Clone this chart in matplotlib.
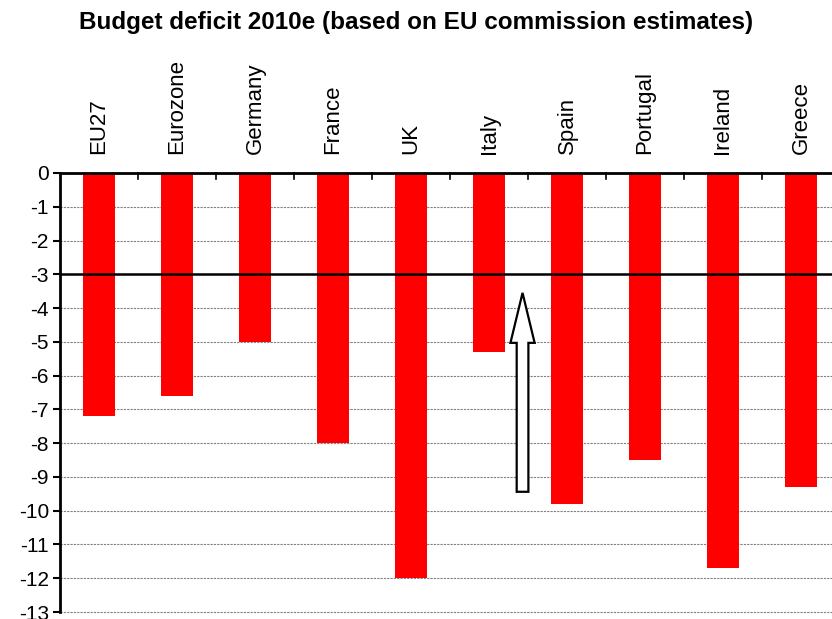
import matplotlib.pyplot as plt
import numpy as np
from matplotlib.patches import FancyArrow

# data
countries = ['EU27', 'Eurozone', 'Germany', 'France', 'UK', 'Italy', 'Spain', 'Portugal', 'Ireland', 'Greece']
deficit = [-7.2, -6.6, -5.0, -8.0, -12.0, -5.3, -9.8, -8.5, -11.7, -9.3]
yticks = list(range(0, -14, -1))

plt.rcParams['font.family'] = ['Liberation Sans', 'DejaVu Sans']

fig = plt.figure(figsize=(8.32, 6.19), dpi=100)
# axes runs slightly past the right edge of the figure
ax = fig.add_axes([60 / 832, 7 / 619, 780 / 832, 439 / 619])

x = np.arange(len(countries))
ax.bar(x, deficit, width=0.41, color='#ff0000', zorder=2)

ax.set_xlim(-0.5, len(countries) - 0.5)
ax.set_ylim(-13, 0)

# grid lines
for v in yticks[1:]:
    if v == -3:
        continue
    ax.axhline(v, color='#808080', lw=0.8, ls=(0, (2, 1)), zorder=1, clip_on=False)
ax.axhline(-3, color='black', lw=1.8, zorder=3)

ax.set_yticks(yticks)
ax.set_yticklabels([str(v) for v in yticks], fontsize=15)
ax.tick_params(axis='y', direction='out', length=5, width=1.5, pad=3)

# category ticks hang down from the zero line
ax.set_xticks([])
for b in np.arange(0.5, len(countries) - 0.5, 1.0):
    ax.plot([b, b], [0, -0.17], color='black', lw=1.2, zorder=4, clip_on=False)

for i, c in enumerate(countries):
    ax.text(i, 0.55, c, rotation=90, ha='center', va='bottom', fontsize=16, clip_on=False)

ax.spines['left'].set_linewidth(2)
ax.spines['top'].set_linewidth(2)
ax.spines['right'].set_visible(False)
ax.spines['bottom'].set_visible(False)

# arrow between Italy and Spain
arr = FancyArrow(5.43, -9.44, 0, 5.89, width=0.15, head_width=0.31, head_length=1.48,
                 length_includes_head=True, facecolor='white', edgecolor='black', lw=1.6, zorder=5)
ax.add_patch(arr)

fig.text(0.5, 1 - 23 / 619, 'Budget deficit 2010e (based on EU commission estimates)',
         ha='center', va='center', fontsize=17.5, fontweight='bold')

fig.savefig('out.png', dpi=100)
